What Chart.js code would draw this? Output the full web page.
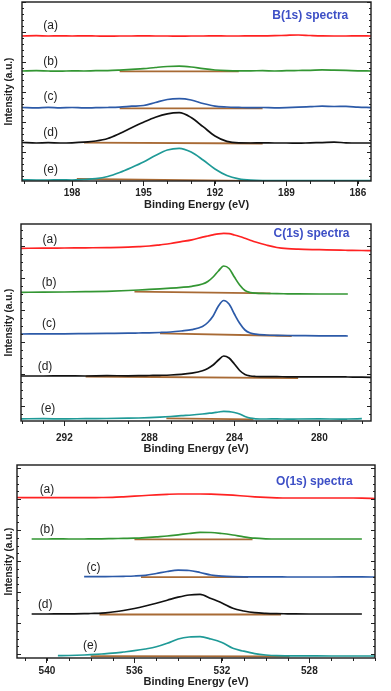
<!DOCTYPE html>
<html>
<head>
<meta charset="utf-8">
<script src="https://cdn.jsdelivr.net/npm/chart.js@4.4.1/dist/chart.umd.min.js"></script>
<style>
  body { margin: 0; background: #fff; }
  canvas { position: absolute; left: 0; }
</style>
</head>
<body>
<canvas id="boronChart" width="391" height="212" style="top:0px"></canvas>
<canvas id="carbonChart" width="391" height="244" style="top:212px"></canvas>
<canvas id="oxygenChart" width="391" height="234" style="top:455px"></canvas>
<script>
// ---- B(1s) ----
const boronEnergy = [200.1, 199.5, 199, 198.5, 198, 197.5, 197, 196.5, 196, 195.5, 195, 194.5, 194, 193.5, 193, 192.5, 192, 191.5, 191, 190.5, 190, 189.5, 189, 188.5, 188, 187.5, 187, 186.5, 186, 185.45];
const boronA = [145, 145.3, 145, 145.2, 145, 145.1, 145, 144.9, 145, 145, 145.1, 145, 145, 144.9, 145, 145, 145.1, 145, 145, 145.2, 145.1, 145.3, 145.7, 146, 145.5, 145.1, 145, 145, 145.1, 145];
const boronB = [110, 110.3, 110, 109.8, 110.2, 110, 110.3, 110.4, 110.9, 111.6, 112.3, 113.5, 114.5, 114.8, 114, 112.3, 111, 110.4, 110.2, 110.2, 110.3, 110, 110.3, 110.5, 110.7, 111.1, 110.9, 110.6, 110.2, 110];
const boronC = [73.5, 73.1, 73.7, 73.2, 73.5, 73.1, 73.3, 73.5, 73.9, 74.8, 75.5, 78.5, 81.5, 82.3, 81, 77.5, 74.8, 74, 73.6, 73.3, 73.5, 73.2, 73.4, 73.8, 74.3, 74.8, 74.5, 74.6, 73.9, 73.4];
const boronD = [38.5, 38, 38.3, 38, 38.2, 38.8, 40, 42.5, 47.5, 53.3, 58.8, 63.8, 67.2, 68.3, 63.5, 54.3, 45, 39.6, 38.1, 38, 38.2, 38, 38, 37.8, 38.2, 38.4, 38.8, 38.2, 38, 38];
const boronE = [1.2, 1, 1, 1.2, 1, 1.5, 2.3, 4.5, 8.5, 13.5, 19, 25.5, 31, 32.7, 29, 21, 12, 5.5, 2.2, 0.8, 0.4, 0.4, 0.3, 0.4, 0.3, 0.3, 0.4, 0.3, 0.3, 0.3];
const boronBgEnergy = [[196, 191], [196, 190], [197.5, 190], [197.8, 190.5]];
const boronBgLevel = [[109.6, 109.6], [72.7, 72.7], [38.4, 37.5], [2.2, 0.2]];
const boronTicks = [198, 195, 192, 189, 186];
const boronLabelX = [198.9, 198.9, 198.9, 198.9, 198.9];
const boronLabelY = [155, 119, 84, 48, 11];

// ---- C(1s) ----
const carbonEnergy = [294.04, 293, 292, 291, 290, 289, 288.5, 288, 287.5, 287, 286.5, 286, 285.5, 285.25, 285, 284.75, 284.5, 284.25, 284, 283.75, 283.5, 283.25, 283, 282.5, 282, 281.5, 281, 280, 279, 278.66, 278, 277.57];
const carbonA = [172.7, 172.8, 173, 173.2, 173.4, 173.8, 174.3, 175, 176.2, 177.5, 179.3, 181.2, 183.8, 185, 186.2, 187.2, 187.7, 187.3, 186, 184.5, 182.7, 180.8, 179, 176, 173.5, 172.3, 171.8, 171.3, 170.8, 170.7, 170.5, 170.3];
const carbonB = [128.7, 128.8, 129, 129.3, 129.7, 130.5, 131, 131.6, 132.2, 132.8, 133.6, 134.7, 137, 139.5, 144, 150, 155, 152.5, 144, 136, 130.5, 128.5, 127.8, 127.5, 127.3, 127.2, 127.1, 127, 127, 127, null, null];
const carbonC = [87, 87.1, 87.2, 87.4, 87.6, 87.8, 88, 88.2, 88.5, 89, 90, 91.3, 94.5, 98.5, 105, 115, 120.5, 117, 107, 97.7, 91, 88, 86.8, 86, 85.7, 85.5, 85.4, 85.2, 85.1, 85, null, null];
const carbonD = [45, 45, 45.2, 45, 45.3, 45.2, 45.3, 45.5, 45.7, 46, 46.6, 47.8, 50.2, 52.5, 56, 61, 65, 63, 57, 50.5, 46.5, 45, 44.5, 44.3, 44.3, 44.2, 44.2, 44.2, 44.1, 44, 43.8, 43.7];
const carbonE = [2.2, 2.3, 2.1, 2.4, 2.5, 2.8, 3, 3.3, 3.8, 4.5, 5.3, 6, 7, 7.6, 8.2, 9, 9.7, 9.4, 8.5, 7, 4.5, 2.8, 2.2, 2, 2.1, 1.9, 2, 2.1, 1.9, 2, 2.3, null];
const carbonBgEnergy = [[288.7, 282.3], [287.5, 281.3], [291, 281], [287.2, 283.1]];
const carbonBgLevel = [[129.3, 127.6], [87.7, 85], [44.5, 42.8], [2.7, 1.7]];
const carbonTicks = [292, 288, 284, 280];
const carbonLabelX = [292.68, 292.72, 292.72, 292.91, 292.77];
const carbonLabelY = [181, 138.3, 97, 54.3, 12];

// ---- O(1s) ----
const oxygenEnergy = [541.37, 540.7, 540, 539.5, 539, 538.3, 538, 537.5, 537, 536.5, 536, 535.5, 535, 534.5, 534, 533.5, 533, 532.5, 532, 531.5, 531, 530.5, 530, 529.5, 529, 528, 527, 526, 525.6, 525];
const oxygenA = [160.5, 160.3, 160.3, 160.4, 160.3, 160.3, 160.4, 160.5, 160.7, 161.2, 161.8, 162.5, 163.2, 163.7, 164, 164, 164, 163.8, 163.4, 162.8, 162, 161.2, 160.6, 160.2, 160, 160, 160, 160, 159.9, 159.5];
const oxygenB = [null, 119, 119, 119.1, 119, 119, 119.1, 119.2, 119.4, 119.6, 119.8, 120.4, 121.2, 122, 123.2, 124.5, 125.6, 125.5, 124.5, 123, 121.2, 119.8, 119.2, 119, 119, 119, 119, 119, 119, null];
const oxygenC = [null, null, null, null, null, 81.3, 81.3, 81.4, 81.5, 81.7, 82, 82.7, 84.5, 86.5, 87.8, 87.5, 85.5, 83, 81.8, 81.3, 81.2, 81.2, 81.1, 81.1, 81, 81, 81, 81.2, 81.1, 81];
const oxygenD = [null, 44, 44, 44.1, 44.2, 44.3, 44.5, 44.8, 46, 47.5, 49.5, 52, 54.8, 57.8, 60.8, 63, 63.6, 59.5, 55, 49.7, 47, 45.3, 44.6, 44.3, 44.2, 44, 44, 44, 44, null];
const oxygenE = [null, null, null, 2.3, 2.5, 3, 3.3, 4, 4.8, 6, 7.3, 9, 11.2, 14.7, 19, 21, 21.3, 19, 15.5, 9.7, 6.8, 4.4, 3, 2.3, 2.2, 2.1, 2, 2, 2, 2];
const oxygenBgEnergy = [[536, 530.6], [535.7, 530.8], [537.6, 529.3], [538, 528.9]];
const oxygenBgLevel = [[118.7, 118.7], [80.8, 80.8], [43.5, 43.5], [1.9, 1.6]];
const oxygenTicks = [540, 536, 532, 528];
const oxygenLabelX = [540.0, 540.0, 537.87, 540.08, 538.02];
const oxygenLabelY = [168.7, 128, 90.7, 53, 12.3];

const curveLabels = ['(a)', '(b)', '(c)', '(d)', '(e)'];
const curveColors = ['#ff2222', '#339633', '#2c5aa8', '#111111', '#1f9a97'];
const bgColor = '#a86a35';
const FONT = '"Liberation Sans", Arial, sans-serif';
Chart.defaults.font.family = FONT;

const framePlugin = {
  id: 'frame',
  afterDatasetsDraw(chart, args, opts) {
    const { ctx, chartArea: a, scales: { x, y } } = chart;
    ctx.save();
    // minor x ticks at every eV
    ctx.strokeStyle = '#222';
    ctx.lineWidth = 1;
    ctx.beginPath();
    for (let v = Math.ceil(x.min); v <= x.max; v++) {
      const px = Math.round(x.getPixelForValue(v)) + 0.5;
      ctx.moveTo(px, a.bottom); ctx.lineTo(px, a.bottom + 3);
    }
    // inward y ticks on both sides
    const minorStep = opts.yStep / opts.yMinor;
    let k = 0;
    let v0 = opts.yStart;
    while (v0 - minorStep >= y.min) { v0 -= minorStep; k--; }
    for (let v = v0; v <= y.max; v += minorStep, k++) {
      const py = Math.round(y.getPixelForValue(v)) + 0.5;
      const len = (((k % opts.yMinor) + opts.yMinor) % opts.yMinor === 0) ? 4 : 2;
      ctx.moveTo(a.left, py); ctx.lineTo(a.left + len, py);
      ctx.moveTo(a.right, py); ctx.lineTo(a.right - len, py);
    }
    ctx.stroke();
    // box
    ctx.lineWidth = 1.4;
    ctx.strokeStyle = '#1a1a1a';
    ctx.strokeRect(a.left, a.top, a.right - a.left, a.bottom - a.top);
    // curve labels
    ctx.fillStyle = '#222';
    ctx.font = '12px ' + FONT;
    ctx.textAlign = 'center';
    ctx.textBaseline = 'middle';
    opts.labelX.forEach((lx, i) => {
      ctx.fillText(curveLabels[i], x.getPixelForValue(lx), y.getPixelForValue(opts.labelY[i]));
    });
    // spectrum title
    ctx.fillStyle = '#3d4fc6';
    ctx.font = 'bold 12px ' + FONT;
    ctx.fillText(opts.title, x.getPixelForValue(opts.titleX), y.getPixelForValue(opts.titleY));
    ctx.restore();
  }
};

function makePanel(id, p) {
  const datasets = [];
  p.series.forEach((s, i) => {
    datasets.push({
      data: p.energy.map((e, j) => ({ x: e, y: s[j] })),
      borderColor: curveColors[i],
      borderWidth: 1.7,
      pointRadius: 0,
      order: 0,
      cubicInterpolationMode: 'monotone'
    });
  });
  p.bgEnergy.forEach((xs, i) => {
    datasets.push({
      data: xs.map((e, j) => ({ x: e, y: p.bgLevel[i][j] })),
      borderColor: bgColor,
      borderWidth: 1.8,
      pointRadius: 0,
      order: 1
    });
  });
  return new Chart(document.getElementById(id), {
    type: 'line',
    data: { datasets },
    options: {
      responsive: false,
      animation: false,
      devicePixelRatio: 1,
      layout: { padding: { top: p.top, right: p.right, left: 0, bottom: 0 } },
      plugins: {
        legend: { display: false },
        tooltip: { enabled: false },
        frame: {
          labelX: p.labelX, labelY: p.labelY,
          title: p.title, titleX: p.titleX, titleY: p.titleY,
          yStart: p.yStart, yStep: p.yStep, yMinor: p.yMinor
        }
      },
      scales: {
        x: {
          type: 'linear',
          reverse: true,
          min: p.xMin,
          max: p.xMax,
          afterBuildTicks: (scale) => { scale.ticks = p.ticks.map(v => ({ value: v })); },
          afterFit: (scale) => { scale.height = p.xHeight; },
          ticks: {
            autoSkip: false,
            maxRotation: 0,
            padding: p.tickPad,
            color: '#222',
            font: { size: 10, weight: 'bold' }
          },
          grid: { drawOnChartArea: false, tickLength: 5, tickColor: '#222', tickWidth: 1 },
          border: { display: false },
          title: {
            display: true,
            text: 'Binding Energy (eV)',
            color: '#222',
            font: { size: 11, weight: 'bold' },
            padding: { top: 0, bottom: 0 }
          }
        },
        y: {
          min: 0,
          max: p.yMax,
          afterFit: (scale) => { scale.width = p.yWidth; },
          ticks: { display: false },
          grid: { display: false },
          border: { display: false },
          title: {
            display: true,
            text: 'Intensity (a.u.)',
            color: '#222',
            font: { size: 10, weight: 'bold' },
            padding: { top: 3, bottom: 0 }
          }
        }
      }
    },
    plugins: [framePlugin]
  });
}

makePanel('boronChart', {
  energy: boronEnergy, series: [boronA, boronB, boronC, boronD, boronE],
  bgEnergy: boronBgEnergy, bgLevel: boronBgLevel, ticks: boronTicks,
  labelX: boronLabelX, labelY: boronLabelY,
  title: 'B(1s) spectra', titleX: 188.0, titleY: 165,
  xMin: 185.45, xMax: 200.1, yMax: 179,
  top: 2, right: 20, yWidth: 22, xHeight: 31, tickPad: 1,
  yStart: 29, yStep: 30, yMinor: 5
});

makePanel('carbonChart', {
  energy: carbonEnergy, series: [carbonA, carbonB, carbonC, carbonD, carbonE],
  bgEnergy: carbonBgEnergy, bgLevel: carbonBgLevel, ticks: carbonTicks,
  labelX: carbonLabelX, labelY: carbonLabelY,
  title: 'C(1s) spectra', titleX: 280.37, titleY: 187,
  xMin: 277.57, xMax: 294.04, yMax: 197,
  top: 12, right: 20, yWidth: 21, xHeight: 35, tickPad: 6,
  yStart: 15, yStep: 32, yMinor: 4
});

makePanel('oxygenChart', {
  energy: oxygenEnergy, series: [oxygenA, oxygenB, oxygenC, oxygenD, oxygenE],
  bgEnergy: oxygenBgEnergy, bgLevel: oxygenBgLevel, ticks: oxygenTicks,
  labelX: oxygenLabelX, labelY: oxygenLabelY,
  title: 'O(1s) spectra', titleX: 527.77, titleY: 176.3,
  xMin: 525.0, xMax: 541.37, yMax: 193,
  top: 10, right: 16, yWidth: 17, xHeight: 31, tickPad: 2,
  yStart: 4, yStep: 31, yMinor: 4
});
</script>
</body>
</html>
